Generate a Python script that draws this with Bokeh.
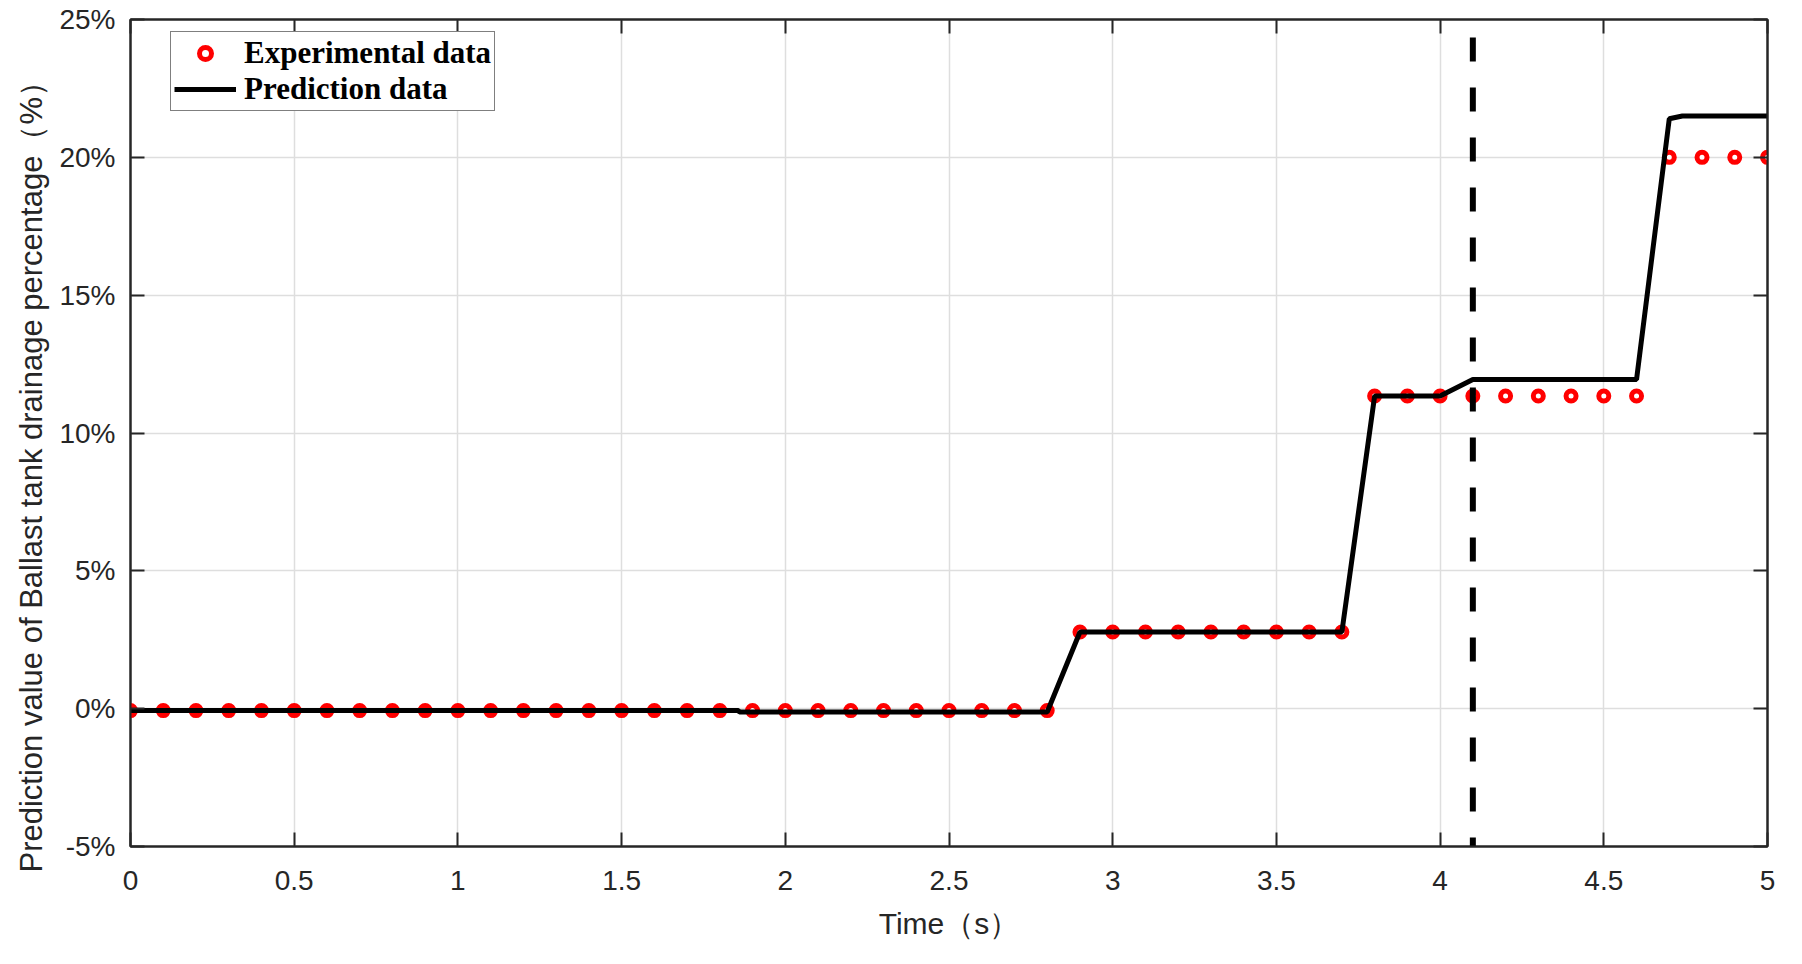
from bokeh.plotting import figure
from bokeh.models import (Range1d, FixedTicker, LinearAxis, Legend, LegendItem, Title,
                          PrintfTickFormatter, CustomJSTickFormatter, ColumnDataSource)
from bokeh.embed import file_html
from bokeh.resources import INLINE

# experimental samples (time in s, drainage in %)
exp_time = [0.0, 0.1, 0.2, 0.3, 0.4, 0.5, 0.6, 0.7, 0.8, 0.9,
            1.0, 1.1, 1.2, 1.3, 1.4, 1.5, 1.6, 1.7, 1.8, 1.9,
            2.0, 2.1, 2.2, 2.3, 2.4, 2.5, 2.6, 2.7, 2.8, 2.9,
            3.0, 3.1, 3.2, 3.3, 3.4, 3.5, 3.6, 3.7, 3.8, 3.9,
            4.0, 4.1, 4.2, 4.3, 4.4, 4.5, 4.6, 4.7, 4.8, 4.9, 5.0]
exp_value = [-0.07] * 29 + [2.78] * 9 + [11.34] * 9 + [20.0] * 4

# prediction curve
pred_time = [0.0, 1.857, 1.86, 2.8, 2.9, 3.7, 3.8, 4.0, 4.1, 4.6, 4.7, 4.74, 5.0]
pred_value = [-0.07, -0.07, -0.12, -0.12, 2.78, 2.78, 11.34, 11.34, 11.94, 11.94, 21.4, 21.5, 21.5]

# vertical marker
mark_time = 4.1
mark_top = 24.35

x_ticks = [0, 0.5, 1, 1.5, 2, 2.5, 3, 3.5, 4, 4.5, 5]
y_ticks = [-5, 0, 5, 10, 15, 20, 25]

DARK = "#262626"
SANS = "Liberation Sans"

p = figure(width=1786, height=948, output_backend="svg", toolbar_location=None,
           x_range=Range1d(0, 5), y_range=Range1d(-5, 25),
           min_border_left=130, min_border_right=19, min_border_top=19, min_border_bottom=102)
p.background_fill_color = "white"
p.outline_line_color = DARK
p.outline_line_width = 2

p.xaxis.ticker = FixedTicker(ticks=x_ticks)
p.yaxis.ticker = FixedTicker(ticks=y_ticks)
p.xaxis.formatter = CustomJSTickFormatter(code="return String(tick)")
p.yaxis.formatter = PrintfTickFormatter(format="%d%%")
p.xaxis.axis_label = "Time（s）"

for ax in [p.xaxis[0], p.yaxis[0]]:
    ax.axis_line_color = DARK
    ax.axis_line_width = 2
    ax.major_tick_line_color = DARK
    ax.major_tick_line_width = 2
    ax.major_tick_in = 14
    ax.major_tick_out = 0
    ax.minor_tick_line_color = None
    ax.major_label_text_font = SANS
    ax.major_label_text_font_size = "28px"
    ax.major_label_text_color = DARK
    ax.axis_label_text_font = SANS
    ax.axis_label_text_font_size = "30px"
    ax.axis_label_text_font_style = "normal"
    ax.axis_label_text_color = DARK
p.xaxis.major_label_standoff = 24
p.xaxis.axis_label_standoff = 14
p.yaxis.major_label_standoff = 15

# y title sits a bit low in the original, so use a left title with an offset
ytitle = Title(text="Prediction value of Ballast tank drainage percentage（%）",
               align="left", offset=-26, standoff=16,
               text_font=SANS, text_font_size="31px", text_font_style="normal",
               text_color=DARK)
p.add_layout(ytitle, "left")

# box ticks on top and right, MATLAB style
for side, tk in [("above", x_ticks), ("right", y_ticks)]:
    ax = LinearAxis(ticker=FixedTicker(ticks=tk),
                    formatter=CustomJSTickFormatter(code="return ''"))
    ax.axis_line_color = DARK
    ax.axis_line_width = 2
    ax.major_tick_line_color = DARK
    ax.major_tick_line_width = 2
    ax.major_tick_in = 14
    ax.major_tick_out = 0
    ax.minor_tick_line_color = None
    ax.major_label_text_font_size = "1px"
    ax.major_label_standoff = 0
    p.add_layout(ax, side)

p.xgrid.ticker = FixedTicker(ticks=x_ticks)
p.ygrid.ticker = FixedTicker(ticks=y_ticks)
p.grid.grid_line_color = "#dedede"
p.grid.grid_line_width = 1.5

exp_src = ColumnDataSource(dict(t=exp_time, v=exp_value))
pred_src = ColumnDataSource(dict(t=pred_time, v=pred_value))

r_exp = p.scatter("t", "v", source=exp_src, marker="circle", size=10,
                  fill_color="white", line_color="red", line_width=5)
r_pred = p.line("t", "v", source=pred_src, line_color="black", line_width=5)
p.segment(x0=[mark_time], y0=[mark_top], x1=[mark_time], y1=[-5],
          line_color="black", line_width=6, line_dash="24 26")

legend = Legend(items=[LegendItem(label="Experimental data", renderers=[r_exp]),
                       LegendItem(label="Prediction data", renderers=[r_pred])],
                location=(40, 735))
legend.label_text_font = "Liberation Serif"
legend.label_text_font_style = "bold"
legend.label_text_font_size = "31px"
legend.label_text_color = "black"
legend.label_height = 30
legend.glyph_width = 62
legend.glyph_height = 30
legend.label_standoff = 8
legend.padding = 3
legend.spacing = 0
legend.border_line_color = "black"
legend.border_line_width = 1.5
legend.background_fill_alpha = 1
p.add_layout(legend, "center")

open("out.html", "w").write(file_html(p, INLINE))
